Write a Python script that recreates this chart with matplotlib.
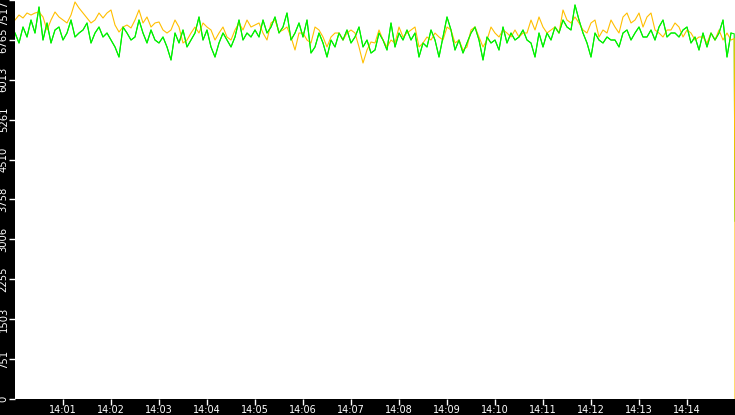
import datetime as dt

import matplotlib
matplotlib.use("Agg")
import matplotlib.pyplot as plt
import matplotlib.dates as mdates

START = dt.datetime(2024, 1, 1, 14, 0, 0)
END = dt.datetime(2024, 1, 1, 14, 15, 0)
STEP_S = 5  # one reading every 5 seconds

orange_vals = [
    7140, 7234, 7178, 7272, 7234, 7272, 7291, 7197, 6952, 7140, 7291, 7197, 7140, 7084, 7234,
    7480, 7366, 7272, 7178, 7084, 7140, 7272, 7178, 7272, 7329, 7046, 6914, 7008, 7046, 6990,
    7140, 7329, 7084, 7197, 7008, 7084, 7103, 6952, 6895, 6952, 7140, 7008, 6707, 6763, 6895,
    7008, 6895, 7084, 7008, 6952, 6763, 6895, 7008, 6820, 6763, 6952, 7084, 6952, 7140, 7008,
    7046, 7084, 6895, 6763, 7084, 7140, 6914, 6952, 7008, 6820, 6575, 6895, 6895, 6763, 6707,
    7008, 6952, 6820, 6632, 6820, 6895, 6895, 6763, 6895, 6952, 6895, 6632, 6330, 6575, 6726,
    6707, 6952, 6763, 6632, 6763, 6707, 7008, 6820, 6895, 6952, 7008, 6632, 6707, 6820, 6763,
    6895, 6820, 6763, 7008, 6952, 6707, 6763, 6575, 6632, 6952, 7008, 6820, 6632, 6763, 7008,
    6895, 6820, 6952, 6895, 6820, 6952, 6820, 6895, 6895, 7140, 6952, 7197, 7008, 6895, 6952,
    7008, 6895, 7329, 7140, 7084, 7197, 7084, 6952, 6895, 7084, 7140, 6820, 6952, 6895, 7140,
    7008, 6895, 7197, 7272, 7084, 7140, 7272, 7008, 7197, 7272, 6952, 6895, 6820, 6952, 6952,
    7084, 7008, 6820, 6952, 6895, 6763, 6820, 6820, 6707, 6895, 6763, 6952, 6763, 6895, 6763,
]
green_vals = [
    6895, 6707, 7008, 6820, 7140, 6895, 7385, 6763, 7084, 6707, 6952, 7008, 6763, 6895, 7140,
    6820, 6895, 6952, 7084, 6707, 6895, 7008, 6820, 6895, 6763, 6632, 6443, 7008, 6895, 6763,
    6820, 7140, 6895, 6707, 6952, 6763, 6707, 6820, 6632, 6387, 6895, 6707, 6952, 6632, 6763,
    6895, 7197, 6763, 6952, 6632, 6443, 6707, 6895, 6763, 6632, 6820, 7140, 6763, 6895, 6820,
    6952, 6820, 7140, 6895, 7008, 7197, 6895, 7008, 7272, 6763, 6895, 7084, 6820, 7140, 6518,
    6632, 6895, 6707, 6443, 6763, 6632, 6895, 6763, 6952, 6707, 6820, 7008, 6632, 6763, 6518,
    6575, 6895, 6763, 6575, 7084, 6632, 6895, 6763, 6952, 6763, 6895, 6443, 6707, 6632, 6952,
    6763, 6443, 6820, 7197, 6952, 6575, 6763, 6518, 6707, 6895, 7008, 6763, 6387, 6820, 6707,
    6763, 6575, 7008, 6707, 6895, 6763, 6820, 6952, 6763, 6707, 6443, 6895, 6632, 6895, 6763,
    7008, 6895, 7140, 7008, 6952, 7423, 7140, 6895, 6707, 6443, 6895, 6763, 6707, 6820, 6763,
    6763, 6632, 6895, 6952, 6763, 6895, 7008, 6820, 6820, 6952, 6763, 7008, 7140, 6820, 6895,
    6895, 6820, 6952, 7008, 6707, 6820, 6575, 6895, 6632, 6895, 6763, 6895, 7140, 6443, 6895,
]
# last second of the window: both series fall off sharply
tail_s = [899, 900, 900]
orange_tail = [6790, 3440, 0]
green_tail = [6880, 3350, 3350]

y_ticks = [0, 751.7, 1503.4, 2255.1, 3006.8, 3758.5, 4510.2, 5261.9, 6013.6, 6765.3, 7517]
y_labels = ["0", "751", "1503", "2255", "3006", "3758", "4510", "5261", "6013", "6765", "7517"]
x_tick_minutes = list(range(1, 15))


def times(n):
    return [START + dt.timedelta(seconds=STEP_S * i) for i in range(n)]


tail_t = [START + dt.timedelta(seconds=s) for s in tail_s]

fig = plt.figure(figsize=(7.35, 4.15), dpi=100, facecolor="black")
ax = fig.add_axes([15 / 735, 16 / 415, 720 / 735, 399 / 415], facecolor="white")

ax.plot(times(len(green_vals)) + tail_t, green_vals + green_tail,
        color="#00f000", lw=0.8, zorder=2)
ax.plot(times(len(orange_vals)) + tail_t, orange_vals + orange_tail,
        color="#ffbf00", lw=0.8, zorder=3)
# redraw green on top for the body of the window, leaving the orange drop visible
ax.plot(times(len(green_vals)), green_vals, color="#00f000", lw=0.8, zorder=4)

ax.set_xlim(START, END)
ax.set_ylim(0, 7517)
for s in ax.spines.values():
    s.set_visible(False)

ax.set_xticks([START + dt.timedelta(minutes=m) for m in x_tick_minutes])
ax.xaxis.set_major_formatter(mdates.DateFormatter("%H:%M"))
ax.set_yticks(y_ticks)
ax.set_yticklabels(y_labels, rotation=90, va="center")
ax.get_yticklabels()[-1].set_va("top")

ax.tick_params(axis="both", colors="white", labelcolor="white",
               direction="out", width=1)
ax.tick_params(axis="x", length=4, pad=0, labelsize=7)
ax.tick_params(axis="y", length=4, pad=0.5, labelsize=7.2)

fig.savefig("out.png", dpi=100, facecolor="black")
